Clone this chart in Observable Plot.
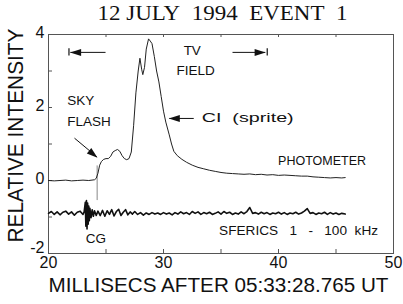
<!DOCTYPE html>
<html><head><meta charset="utf-8">
<script src="https://cdn.jsdelivr.net/npm/d3@7"></script>
<script src="https://cdn.jsdelivr.net/npm/@observablehq/plot@0.6"></script>
<style>body{margin:0;background:#fff}svg{display:block}</style>
</head><body><div id="chart"></div>
<script>
const titleText = "12\u00A0JULY\u00A0\u00A01994\u00A0\u00A0EVENT\u00A0\u00A01";
const xLabel = "MILLISECS AFTER 05:33:28.765 UT";
const yLabel = "RELATIVE\u00A0INTENSITY";
const xTickLabels = [20, 30, 40, 50];
const yTickLabels = [0, 2, 4];
const yBottomLabel = [-2];
const xMinorTicks = [25, 30, 35, 40, 45];
const yMinorTicks = [-1, 0, 1, 2, 3];

const photT = [20,20.5,21,21.5,22,22.5,23,23.5,24,24.15,24.3,24.45,24.6,24.8,25,25.2,25.4,25.6,25.8,26,26.2,26.4,26.6,26.8,27,27.2,27.4,27.6,27.8,27.95,28.1,28.2,28.35,28.5,28.7,28.85,29,29.2,29.4,29.6,29.8,30,30.2,30.5,30.7,30.9,31.2,31.6,32,32.5,33,33.5,34,34.5,35,35.5,36,36.5,37,37.5,38,38.5,39,39.5,40,40.5,41,41.5,42,42.5,43,43.5,44,44.5,45,45.5,45.8];
const photV = [0,-0.01,0,0.01,-0.01,0,0.01,0,0.02,0.06,0.2,0.42,0.52,0.58,0.6,0.6,0.66,0.78,0.82,0.85,0.8,0.68,0.6,0.57,0.6,0.78,1.5,2.4,3.0,3.35,3.05,2.9,3.1,3.6,3.88,3.82,3.75,3.4,3.0,2.7,2.3,1.9,1.6,1.25,1.0,0.8,0.68,0.58,0.5,0.42,0.36,0.32,0.28,0.25,0.22,0.2,0.19,0.18,0.17,0.18,0.16,0.17,0.15,0.16,0.14,0.15,0.14,0.13,0.12,0.12,0.1,0.09,0.08,0.07,0.08,0.07,0.08];

const sferT = [20,20.25,20.5,20.75,21,21.25,21.5,21.75,22,22.25,22.5,22.75,23,23.1,23.2,23.25,23.3,23.35,23.4,23.45,23.5,23.55,23.6,23.7,23.8,23.9,24,24.15,24.3,24.5,24.7,24.9,25.1,25.3,25.5,25.7,25.9,26.1,26.3,26.5,26.7,26.9,27.1,27.3,27.5,27.75,28,28.25,28.5,28.75,29,29.25,29.5,29.75,30,30.25,30.5,30.75,31,31.25,31.5,31.75,32,32.25,32.5,32.75,33,33.25,33.5,33.75,34,34.25,34.5,34.75,35,35.25,35.5,35.75,36,36.25,36.5,36.75,37,37.25,37.5,37.75,38,38.25,38.5,38.75,39,39.25,39.5,39.75,40,40.25,40.5,40.75,41,41.25,41.5,41.75,42,42.25,42.5,42.75,43,43.25,43.5,43.75,44,44.25,44.5,44.75,45,45.25,45.5,45.8];
const sferV = [-0.9,-0.85,-0.93,-0.86,-0.94,-0.87,-0.84,-0.92,-0.86,-0.95,-0.87,-0.84,-0.93,
 -0.86,-0.6,-1.25,-0.55,-1.33,-0.62,-1.2,-0.7,-1.1,-0.76,-1.02,-0.8,-0.98,-0.83,
 -0.96,-0.84,
 -0.96,-0.82,-0.98,-0.83,-0.93,-0.8,-0.97,-0.85,-0.79,-0.96,-0.87,-0.8,-0.94,-0.86,-0.92,
 -0.85,
 -0.93,-0.88,-0.95,-0.89,-0.93,-0.88,-0.92,-0.89,-0.93,-0.88,
 -0.92,-0.89,-0.94,-0.88,-0.92,-0.86,-0.91,-0.88,-0.93,-0.85,
 -0.9,-0.86,-0.93,-0.88,-0.91,-0.87,-0.93,-0.9,-0.86,-0.92,
 -0.85,-0.9,-0.87,-0.93,-0.89,-0.92,-0.86,-0.91,-0.85,-0.74,
 -0.9,-0.88,-0.92,-0.87,-0.91,-0.88,-0.93,-0.89,-0.91,-0.87,
 -0.92,-0.88,-0.93,-0.89,-0.91,-0.87,-0.92,-0.89,-0.84,-0.77,
 -0.9,-0.88,-0.93,-0.89,-0.91,-0.87,-0.93,-0.88,-0.92,-0.89,
 -0.93,-0.9,
 -0.92];

const cgStroke = [{t: 24.23, top: 0.4, bottom: -0.55}];

const phot = photT.map((t, i) => ({t, v: photV[i]}));
const sfer = sferT.map((t, i) => ({t, v: sferV[i]}));

function head(deg) {
  const a = deg * Math.PI / 180, c = Math.cos(a), s = Math.sin(a);
  const pts = [[0, 0], [-11, -3.5], [-11, 3.5]];
  return {draw(ctx) {
    pts.forEach(([x, y], i) => {
      const X = x * c - y * s, Y = x * s + y * c;
      i ? ctx.lineTo(X, Y) : ctx.moveTo(X, Y);
    });
    ctx.closePath();
  }};
}

const font = "'Liberation Sans', Arial, sans-serif";
const ink = "#111";
const txt = (s, t, v, opts = {}) => Plot.text([{s, t, v}], {x: "t", y: "v", text: "s", fontSize: 13.5, fill: ink, ...opts});
const sferLabel = "SFERICS\u00A0\u00A0\u00A01\u00A0\u00A0\u00A0-\u00A0\u00A0\u00A0100\u00A0\u00A0kHz";
const ciLabel = "CI\u00A0\u00A0(sprite)";

const chart = Plot.plot({
  width: 403, height: 304,
  marginLeft: 48, marginRight: 10, marginTop: 34, marginBottom: 51,
  x: {domain: [20, 50]},
  y: {domain: [-2, 4]},
  style: {fontFamily: font, background: "#fff", color: ink},
  marks: [
    Plot.frame({stroke: "#555", strokeWidth: 1}),
    Plot.tickX(xMinorTicks, {x: d => d, insetTop: 215, stroke: "#555"}),
    Plot.tickX(xMinorTicks, {x: d => d, insetBottom: 216, stroke: "#555"}),
    Plot.tickY(yMinorTicks, {y: d => d, insetRight: 341, stroke: "#555"}),
    Plot.axisX({ticks: xTickLabels, tickFormat: d => String(d), tickSize: 0, tickPadding: 3, fontSize: 16, label: null, fill: ink}),
    Plot.axisY({ticks: yTickLabels, tickFormat: d => String(d), tickSize: 0, tickPadding: 4, dy: -2, fontSize: 16, label: null, fill: ink}),
    Plot.axisY({ticks: yBottomLabel, tickFormat: d => String(d), tickSize: 0, tickPadding: 4, dy: -6, fontSize: 16, label: null, fill: ink}),
    Plot.ruleX(cgStroke, {x: "t", y1: "top", y2: "bottom", stroke: "#888", strokeWidth: 1}),
    Plot.line(phot, {x: "t", y: "v", stroke: "#222", strokeWidth: 1}),
    Plot.line(sfer, {x: "t", y: "v", stroke: ink, strokeWidth: 1.6}),
    // TV field arrows
    Plot.ruleX([{t: 21.78}, {t: 39.02}], {x: "t", y1: 3.41, y2: 3.61, stroke: ink, strokeWidth: 1.2}),
    Plot.link([{a: 21.9, b: 24.96, v: 3.51}, {a: 36.0, b: 38.85, v: 3.51}], {x1: "a", x2: "b", y1: "v", y2: "v", stroke: ink, strokeWidth: 1}),
    Plot.dot([{t: 21.88, v: 3.51}], {x: "t", y: "v", symbol: head(180), fill: ink, stroke: "none"}),
    Plot.dot([{t: 38.88, v: 3.51}], {x: "t", y: "v", symbol: head(0), fill: ink, stroke: "none"}),
    // CI arrow
    Plot.link([{a: 30.5, b: 32.63, v: 1.70}], {x1: "a", x2: "b", y1: "v", y2: "v", stroke: ink, strokeWidth: 1}),
    Plot.dot([{t: 30.46, v: 1.70}], {x: "t", y: "v", symbol: head(180), fill: ink, stroke: "none"}),
    // Sky flash arrow
    Plot.link([{a: 22.26, av: 1.16, b: 24.2, bv: 0.65}], {x1: "a", y1: "av", x2: "b", y2: "bv", stroke: ink, strokeWidth: 1}),
    Plot.dot([{t: 24.26, v: 0.62}], {x: "t", y: "v", symbol: head(40), fill: ink, stroke: "none"}),
    // labels
    txt("TV", 32.5, 3.57),
    txt("FIELD", 32.8, 3.02),
    txt("SKY", 21.63, 2.18, {textAnchor: "start"}),
    txt("FLASH", 21.63, 1.60, {textAnchor: "start"}),
    txt(ciLabel, 33.32, 1.72, {textAnchor: "start"}),
    txt("PHOTOMETER", 39.96, 0.54, {textAnchor: "start"}),
    txt(sferLabel, 34.83, -1.37, {textAnchor: "start"}),
    txt("CG", 24.13, -1.6),
    // titles
    Plot.text([titleText], {frameAnchor: "top", dy: -29, dx: 1.5, fontSize: 21, fontFamily: "'Liberation Serif', 'Times New Roman', serif", fill: ink}),
    Plot.text([xLabel], {frameAnchor: "bottom", dy: 38, dx: -2.5, fontSize: 20, fill: ink}),
    Plot.text([yLabel], {frameAnchor: "left", textAnchor: "start", dx: -33, dy: 98.5, rotate: -90, fontSize: 22, fill: ink})
  ]
});
const fits = new Map([[titleText, 250], [xLabel, 340], [yLabel, 214], [sferLabel, 159], ["PHOTOMETER", 88], [ciLabel, 92]]);
d3.select(chart).selectAll("text").each(function() {
  const len = fits.get(this.textContent);
  if (len) d3.select(this).attr("textLength", len).attr("lengthAdjust", "spacingAndGlyphs");
});
document.getElementById("chart").appendChild(chart);
</script></body></html>
